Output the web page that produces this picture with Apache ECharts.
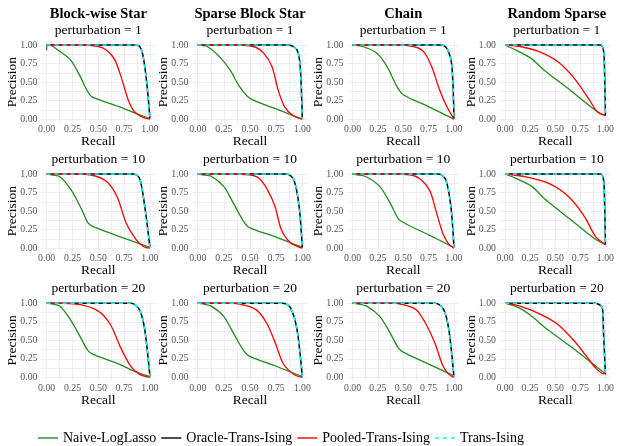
<!DOCTYPE html>
<html>
<head>
    <meta charset="UTF-8">
    <title>Precision-Recall curves</title>
    <script src="https://cdn.jsdelivr.net/npm/echarts@6/dist/echarts.min.js"></script>
</head>
<body style="margin:0">
    <div id="prChart" style="width: 617px; height: 446px;"></div>

    <script type="text/javascript">
        // structures (columns) and perturbation levels (rows)
        var structures = ['Block-wise Star', 'Sparse Block Star', 'Chain', 'Random Sparse'];
        var perturbations = [1, 10, 20];
        var methods = ['Naive-LogLasso', 'Oracle-Trans-Ising', 'Pooled-Trans-Ising', 'Trans-Ising'];
        var tickLabels = [0, 0.25, 0.5, 0.75, 1];
        var gridTicks = [0, 0.125, 0.25, 0.375, 0.5, 0.625, 0.75, 0.875, 1];

        // [recall, precision] per panel, row by row (pert 1, 10, 20) and BWS, SBS, Chain, RS
        var naiveLogLasso = [
            [[0,0.93],[0.005,1],[0.05,0.99],[0.11,0.93],[0.23,0.80],[0.32,0.59],[0.39,0.39],[0.44,0.30],[0.7,0.17],[0.9,0.06],[1,0.01]],
            [[0,1],[0.09,0.98],[0.21,0.84],[0.31,0.66],[0.40,0.44],[0.5,0.28],[0.75,0.14],[1,0.0]],
            [[0,1],[0.1,0.98],[0.24,0.89],[0.34,0.71],[0.43,0.46],[0.5,0.33],[0.75,0.17],[1,0.0]],
            [[0,1],[0.11,0.93],[0.26,0.82],[0.39,0.66],[0.65,0.39],[0.92,0.10],[1,0.05]],
            [[0,1],[0.05,0.99],[0.13,0.96],[0.24,0.78],[0.34,0.52],[0.40,0.34],[0.45,0.29],[0.7,0.16],[1,0.01]],
            [[0,1],[0.05,0.99],[0.13,0.97],[0.25,0.83],[0.34,0.61],[0.43,0.38],[0.49,0.28],[0.75,0.15],[1,0.01]],
            [[0,1],[0.05,0.99],[0.14,0.96],[0.27,0.83],[0.37,0.61],[0.45,0.40],[0.51,0.34],[0.75,0.18],[1,0.01]],
            [[0,1],[0.11,0.94],[0.27,0.83],[0.39,0.67],[0.65,0.39],[0.9,0.12],[1,0.05]],
            [[0,1],[0.05,0.99],[0.13,0.96],[0.23,0.78],[0.32,0.56],[0.40,0.36],[0.45,0.31],[0.7,0.18],[0.87,0.07],[1,0.01]],
            [[0,1],[0.05,0.99],[0.13,0.96],[0.25,0.82],[0.34,0.60],[0.43,0.38],[0.49,0.29],[0.75,0.15],[1,0.01]],
            [[0,1],[0.05,0.99],[0.14,0.96],[0.27,0.82],[0.37,0.60],[0.45,0.40],[0.5,0.34],[0.75,0.18],[1,0.02]],
            [[0,1],[0.15,0.93],[0.27,0.82],[0.40,0.67],[0.7,0.37],[0.98,0.07],[1,0.06]]
        ];

        var oracleTransIsing = [
            [[0,1],[0.85,1],[0.9,0.98],[0.935,0.84],[0.97,0.48],[1,0.01]],
            [[0,1],[0.87,1],[0.95,0.93],[0.98,0.71],[1,0.01]],
            [[0,1],[0.88,1],[0.94,0.93],[0.98,0.71],[1,0.01]],
            [[0,1],[0.95,1],[0.98,0.93],[0.99,0.71],[1,0.05]],
            [[0,1],[0.84,1],[0.9,0.94],[0.95,0.56],[1,0.01]],
            [[0,1],[0.85,1],[0.92,0.92],[0.97,0.56],[1,0.01]],
            [[0,1],[0.85,1],[0.92,0.92],[0.97,0.56],[1,0.01]],
            [[0,1],[0.95,1],[0.98,0.93],[0.99,0.71],[1,0.05]],
            [[0,1],[0.82,1],[0.9,0.91],[0.95,0.64],[1,0.01]],
            [[0,1],[0.82,1],[0.89,0.93],[0.95,0.64],[1,0.01]],
            [[0,1],[0.82,1],[0.9,0.91],[0.95,0.64],[1,0.01]],
            [[0,1],[0.9,1],[0.97,0.93],[0.98,0.64],[1,0.04]]
        ];

        var pooledTransIsing = [
            [[0,1],[0.3,1],[0.5,0.98],[0.58,0.93],[0.66,0.80],[0.73,0.53],[0.79,0.26],[0.85,0.10],[0.94,0.02],[1,0]],
            [[0,1],[0.3,1],[0.53,0.98],[0.63,0.89],[0.71,0.71],[0.77,0.39],[0.83,0.17],[0.91,0.05],[1,0]],
            [[0,1],[0.4,1],[0.6,0.98],[0.70,0.91],[0.78,0.71],[0.86,0.39],[0.93,0.17],[1,0]],
            [[0,1],[0.15,0.98],[0.34,0.91],[0.53,0.77],[0.69,0.55],[0.84,0.26],[0.92,0.10],[1,0.05]],
            [[0,1],[0.3,1],[0.42,0.99],[0.58,0.90],[0.68,0.70],[0.77,0.34],[0.87,0.11],[0.94,0.02],[1,0]],
            [[0,1],[0.3,1],[0.49,0.99],[0.59,0.94],[0.67,0.78],[0.74,0.56],[0.80,0.25],[0.89,0.07],[1,0]],
            [[0,1],[0.4,1],[0.56,0.99],[0.66,0.94],[0.76,0.78],[0.82,0.52],[0.89,0.20],[0.95,0.05],[1,0]],
            [[0,1],[0.21,0.96],[0.44,0.87],[0.63,0.70],[0.79,0.43],[0.9,0.16],[1,0.05]],
            [[0,1],[0.26,0.99],[0.48,0.91],[0.61,0.73],[0.71,0.42],[0.81,0.16],[0.9,0.04],[1,0]],
            [[0,1],[0.25,1],[0.39,0.99],[0.56,0.91],[0.66,0.73],[0.74,0.47],[0.82,0.18],[0.92,0.04],[1,0]],
            [[0,1],[0.35,1],[0.5,0.98],[0.63,0.91],[0.72,0.73],[0.81,0.47],[0.89,0.16],[0.95,0.04],[1,0]],
            [[0,1],[0.15,0.96],[0.37,0.84],[0.53,0.71],[0.69,0.49],[0.82,0.27],[0.9,0.13],[0.98,0.05],[1,0.05]]
        ];

        var transIsing = [
            [[0,1],[0.85,1],[0.9,0.98],[0.935,0.84],[0.97,0.48],[1,0.01]],
            [[0,1],[0.87,1],[0.95,0.93],[0.98,0.71],[1,0.01]],
            [[0,1],[0.88,1],[0.94,0.93],[0.98,0.71],[1,0.01]],
            [[0,1],[0.95,1],[0.98,0.93],[0.99,0.71],[1,0.05]],
            [[0,1],[0.84,1],[0.9,0.94],[0.95,0.56],[1,0.01]],
            [[0,1],[0.85,1],[0.92,0.92],[0.97,0.56],[1,0.01]],
            [[0,1],[0.85,1],[0.92,0.92],[0.97,0.56],[1,0.01]],
            [[0,1],[0.95,1],[0.98,0.93],[0.99,0.71],[1,0.05]],
            [[0,1],[0.82,1],[0.9,0.91],[0.95,0.64],[1,0.01]],
            [[0,1],[0.82,1],[0.89,0.93],[0.95,0.64],[1,0.01]],
            [[0,1],[0.82,1],[0.9,0.91],[0.95,0.64],[1,0.01]],
            [[0,1],[0.9,1],[0.97,0.93],[0.98,0.64],[1,0.04]]
        ];

        var myChart = echarts.init(document.getElementById('prChart'));
        var font = "'Liberation Serif', 'Times New Roman', serif";

        // panel layout
        var colLeft = [41.5, 192.5, 347.5, 500];
        var colWidth = [113.6, 115, 111.5, 113.6];
        var rowTop = [41.3, 170.3, 299.5];
        var rowHeight = 81.6;
        var subTop = [23, 152, 281];

        var styles = [
            { color: '#228B22', width: 1.3, type: 'solid' },
            { color: '#000000', width: 1.5, type: 'solid' },
            { color: '#FF0000', width: 1.3, type: 'solid' },
            { color: '#00FFFF', width: 1.5, type: [4, 4] }
        ];
        // legend keys drawn as short line segments
        var solidKey = 'path://M0,6h20v1.4h-20z';
        var dashedKey = 'path://M0,6h4v1.4h-4z M8,6h4v1.4h-4z M16,6h4v1.4h-4z';
        var allData = [naiveLogLasso, oracleTransIsing, pooledTransIsing, transIsing];

        var grids = [], xAxes = [], yAxes = [], series = [], titles = [];

        structures.forEach(function (s, c) {
            titles.push({
                text: s, left: colLeft[c] + colWidth[c] / 2, top: 7, textAlign: 'center', padding: 0,
                textStyle: { fontFamily: font, fontSize: 14.5, fontWeight: 'bold', color: '#000' }
            });
        });

        perturbations.forEach(function (p, r) {
            structures.forEach(function (s, c) {
                var i = r * 4 + c;
                titles.push({
                    text: 'perturbation = ' + p, left: colLeft[c] + colWidth[c] / 2, top: subTop[r], textAlign: 'center', padding: 0,
                    textStyle: { fontFamily: font, fontSize: 13.5, fontWeight: 'normal', color: '#000' }
                });
                grids.push({ left: colLeft[c], top: rowTop[r], width: colWidth[c], height: rowHeight });
                var common = {
                    type: 'value', gridIndex: i, min: -0.05, max: 1.05,
                    axisLine: { show: false },
                    axisTick: { show: false, customValues: gridTicks },
                    axisLabel: {
                        customValues: tickLabels, color: '#555', fontSize: 9.8, fontFamily: font,
                        formatter: function (v) { return v.toFixed(2); }
                    },
                    splitLine: { show: true, lineStyle: { color: '#ebebeb', width: 0.8 } },
                    nameLocation: 'middle',
                    nameMoveOverlap: false,
                    nameTextStyle: { fontFamily: font, fontSize: 13.5, color: '#000' }
                };
                xAxes.push(Object.assign({}, common, {
                    name: 'Recall', nameGap: 12,
                    axisLabel: Object.assign({}, common.axisLabel, { margin: 2 })
                }));
                yAxes.push(Object.assign({}, common, {
                    name: 'Precision', nameGap: 22, nameRotate: 90,
                    axisLabel: Object.assign({}, common.axisLabel, { margin: 4 })
                }));
                methods.forEach(function (m, k) {
                    series.push({
                        name: m, type: 'line', xAxisIndex: i, yAxisIndex: i,
                        data: allData[k][i], showSymbol: false, symbol: 'none',
                        smooth: 0.3, lineStyle: styles[k], itemStyle: { color: styles[k].color },
                        z: 2 + k, animation: false
                    });
                });
            });
        });

        var option = {
            backgroundColor: '#fff',
            animation: false,
            title: titles,
            legend: {
                data: methods.map(function (m, k) {
                    return { name: m, icon: k === 3 ? dashedKey : solidKey };
                }),
                left: 38, top: 431, padding: 0, itemWidth: 20, itemHeight: 14, itemGap: 5,
                textStyle: { fontFamily: font, fontSize: 14, color: '#000' }
            },
            grid: grids,
            xAxis: xAxes,
            yAxis: yAxes,
            series: series
        };

        myChart.setOption(option);
    </script>
</body>
</html>
